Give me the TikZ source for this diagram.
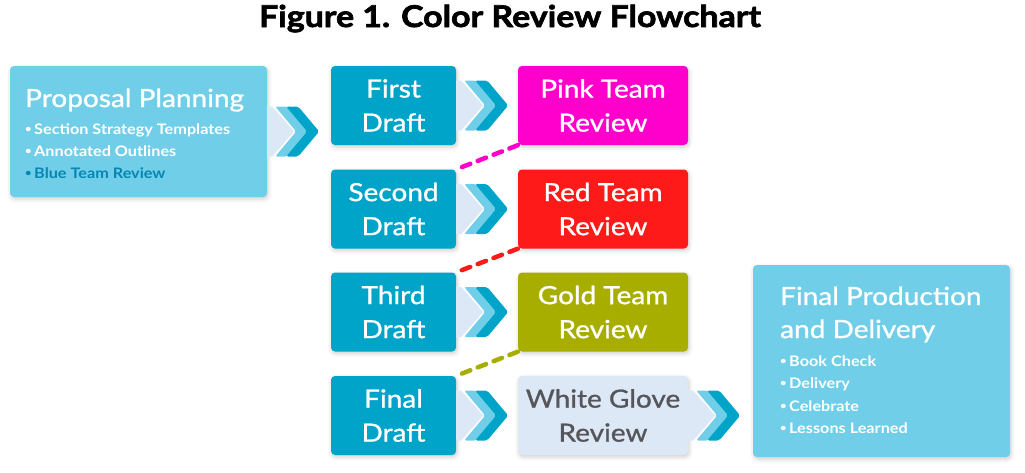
\documentclass[tikz,border=0pt]{standalone}
\usepackage{fontspec}
\setmainfont{Lato}[FakeStretch=1.12]
\newfontfamily\regf{Lato}[FakeStretch=1.12, FakeBold=1]
\newfontfamily\titlef{Lato}[FakeStretch=1.13, FakeBold=2.2]
\usetikzlibrary{shadows.blur}
\definecolor{dblue}{RGB}{0,164,200}
\definecolor{lblue}{RGB}{112,206,232}
\definecolor{palec}{RGB}{221,232,247}
\definecolor{tblue}{RGB}{6,134,178}
\definecolor{pinkc}{RGB}{255,0,204}
\definecolor{redc}{RGB}{255,26,26}
\definecolor{goldc}{RGB}{168,174,0}
\definecolor{greytext}{RGB}{85,85,90}
\newcommand\bul{\makebox[9pt][l]{\raisebox{1.8pt}{\fontsize{10}{10}\selectfont •}}}
\tikzset{
 boxbase/.style={rounded corners=4pt, inner sep=0pt, blur shadow={shadow xshift=1pt,shadow yshift=-2pt,shadow blur radius=4pt,shadow opacity=20}},
 draftbox/.style={boxbase, fill=dblue, minimum width=125pt, minimum height=79pt, text=white, align=center, font=\regf\fontsize{25}{34}\selectfont},
 reviewbox/.style={boxbase, minimum width=170pt, minimum height=79pt, text=white, align=center, font=\regf\fontsize{25}{34}\selectfont},
 bigbox/.style={boxbase, fill=lblue},
 headtext/.style={anchor=base west, text=white, font=\regf\fontsize{25}{34}\selectfont, inner sep=0pt},
 bullettext/.style={anchor=base west, text=white, font=\bfseries\fontsize{14.5}{22}\selectfont, inner sep=0pt},
 dashlink/.style={line width=4.5pt, dash pattern=on 9pt off 8pt, line cap=round},
 chevrons/.pic={
   \fill[palec] (0,-25) -- (5,-25) -- (27,0) -- (5,25) -- (0,25) -- cycle;
   \fill[lblue, rounded corners=2pt] (8,-25) -- (20,-25) -- (41,0) -- (20,25) -- (8,25) -- (29,0) -- cycle;
   \fill[dblue, rounded corners=2pt] (19,-25) -- (31,-25) -- (52,0) -- (31,25) -- (19,25) -- (40,0) -- cycle;
 }
}
\begin{document}
\begin{tikzpicture}[x=1pt,y=-1pt]
\useasboundingbox (0,0) rectangle (1025,472);
\node[font=\titlef\bfseries\fontsize{30}{36}\selectfont, anchor=base, inner sep=0pt] (title) at (510,27) {Figure 1. Color Review Flowchart};
% proposal planning
\node[bigbox, minimum width=257pt, minimum height=131pt] (pp) at (138.5,131.5) {};
\node[headtext] (ppt) at (25,107) {Proposal Planning};
\node[bullettext] (pp1) at (25,134) {\bul Section Strategy Templates};
\node[bullettext] (pp2) at (25,156) {\bul Annotated Outlines};
\node[bullettext, text=tblue] (pp3) at (25,178) {\bul Blue Team Review};
% drafts
\node[draftbox] (d1) at (393.5,105.5) {First\\Draft};
\node[draftbox] (d2) at (393.5,209) {Second\\Draft};
\node[draftbox] (d3) at (393.5,312) {Third\\Draft};
\node[draftbox] (d4) at (393.5,415.5) {Final\\Draft};
% reviews
\node[reviewbox, fill=pinkc] (r1) at (603,105.5) {Pink Team\\Review};
\node[reviewbox, fill=redc] (r2) at (603,209) {Red Team\\Review};
\node[reviewbox, fill=goldc] (r3) at (603,312) {Gold Team\\Review};
\node[reviewbox, fill=palec, text=greytext] (r4) at (603,415.5) {White Glove\\Review};
% final
\node[bigbox, minimum width=257pt, minimum height=192pt] (fp) at (881.5,361) {};
\node[headtext] (fpt1) at (780,305) {Final Production};
\node[headtext] (fpt2) at (780,338) {and Delivery};
\node[bullettext] (fp1) at (780,366) {\bul Book Check};
\node[bullettext] (fp2) at (780,388) {\bul Delivery};
\node[bullettext] (fp3) at (780,411) {\bul Celebrate};
\node[bullettext] (fp4) at (780,433) {\bul Lessons Learned};
% chevrons
\pic at (pp.east) {chevrons};
\pic at (d1.east) {chevrons};
\pic at (d2.east) {chevrons};
\pic at (d3.east) {chevrons};
\pic at (d4.east) {chevrons};
\pic at (r4.east) {chevrons};
% dashed links
\draw[dashlink, pinkc] (r1.south west) -- (d2.north east);
\draw[dashlink, redc] (r2.south west) -- (d3.north east);
\draw[dashlink, goldc] (r3.south west) -- (d4.north east);
\end{tikzpicture}
\end{document}
